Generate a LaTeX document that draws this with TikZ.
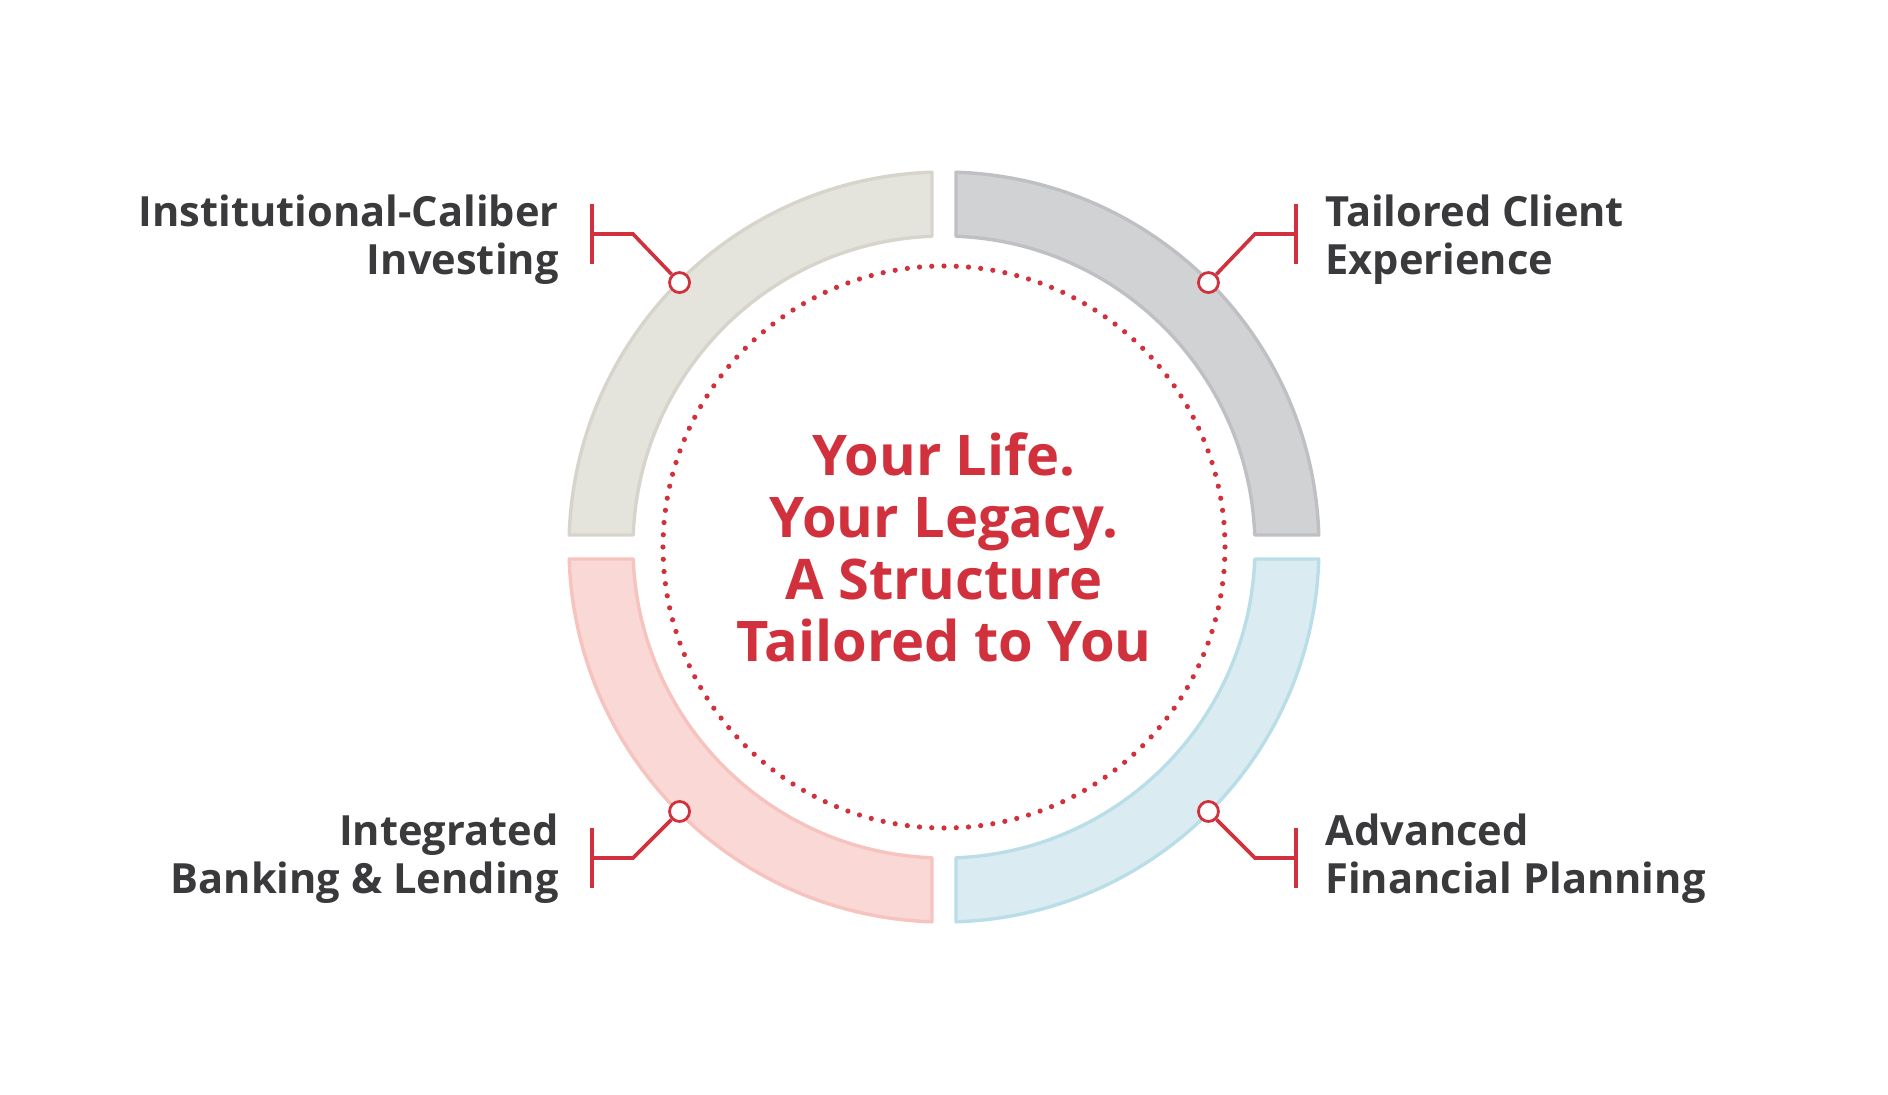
\documentclass[tikz,border=0pt]{standalone}
\usepackage{fontspec}
\setmainfont{Open Sans}
\definecolor{accent}{HTML}{D1313C}
\definecolor{labelgray}{HTML}{3A3A3C}
\definecolor{tlfill}{HTML}{E4E3DC}
\definecolor{tlline}{HTML}{D7D5CB}
\definecolor{trfill}{HTML}{D1D2D4}
\definecolor{trline}{HTML}{BFC0C4}
\definecolor{blfill}{HTML}{FAD8D5}
\definecolor{blline}{HTML}{F6C3BE}
\definecolor{brfill}{HTML}{DAECF2}
\definecolor{brline}{HTML}{BADEE8}
\begin{document}
\begin{tikzpicture}[x=0.5pt,y=0.5pt,
  seg/.style={line width=1.7pt, line join=round},
  pin/.style={circle, draw=accent, fill=white, line width=1.4pt, minimum size=10pt, inner sep=0pt},
  conn/.style={draw=accent, line width=1.8pt},
  lbl/.style={inner sep=0pt, text=labelgray, font=\fontsize{20.8}{24}\selectfont\bfseries},
  headline/.style={inner sep=0pt, text=accent, font=\fontsize{28}{31}\selectfont\bfseries}]
\useasboundingbox (-944,-547) rectangle (944,547);
\fill[white] (-944,-547) rectangle (944,547);

% ring segments
\draw[seg, fill=tlfill, draw=tlline] (178.166:375) arc[start angle=178.166, end angle=91.834, radius=375]
  -- (92.211:311) arc[start angle=92.211, end angle=177.789, radius=311] -- cycle;
\draw[seg, fill=trfill, draw=trline] (88.166:375) arc[start angle=88.166, end angle=1.834, radius=375]
  -- (2.211:311) arc[start angle=2.211, end angle=87.789, radius=311] -- cycle;
\draw[seg, fill=blfill, draw=blline] (268.166:375) arc[start angle=268.166, end angle=181.834, radius=375]
  -- (182.211:311) arc[start angle=182.211, end angle=267.789, radius=311] -- cycle;
\draw[seg, fill=brfill, draw=brline] (358.166:375) arc[start angle=358.166, end angle=271.834, radius=375]
  -- (272.211:311) arc[start angle=272.211, end angle=357.789, radius=311] -- cycle;

% dotted inner circle
\foreach \i in {0,...,143}{\fill[accent] (\i*2.5:281) circle[radius=2.6];}

% centre text
\node[headline, anchor=base] (title) at (0,72)
  {\begin{tabular}[t]{@{}c@{}}Your Life.\\Your Legacy.\\A Structure\\Tailored to You\end{tabular}};

% pins
\node[pin] (p1) at (135:374) {};
\node[pin] (p2) at (45:374) {};
\node[pin] (p3) at (225:374) {};
\node[pin] (p4) at (315:374) {};

% elbows and bars
\coordinate (e1) at (-311,313); \coordinate (b1) at (-352,313);
\coordinate (e2) at (311,313);  \coordinate (b2) at (352,313);
\coordinate (e3) at (-311,-311); \coordinate (b3) at (-352,-311);
\coordinate (e4) at (311,-311);  \coordinate (b4) at (352,-311);

\draw[conn] (p1) -- (e1) -- (b1);
\draw[conn] (p2) -- (e2) -- (b2);
\draw[conn] (p3) -- (e3) -- (b3);
\draw[conn] (p4) -- (e4) -- (b4);
\foreach \b in {b1,b2,b3,b4}{\draw[conn] ([yshift=15pt]\b) -- ([yshift=-15pt]\b);}

% labels
\node[lbl, anchor=base east] (l1) at (-385,321)
  {\begin{tabular}[t]{@{}r@{}}Institutional-Caliber\\Investing\end{tabular}};
\node[lbl, anchor=base west] (l2) at (381,321)
  {\begin{tabular}[t]{@{}l@{}}Tailored Client\\Experience\end{tabular}};
\node[lbl, anchor=base east] (l3) at (-385,-298)
  {\begin{tabular}[t]{@{}r@{}}Integrated\\Banking \& Lending\end{tabular}};
\node[lbl, anchor=base west] (l4) at (381,-298)
  {\begin{tabular}[t]{@{}l@{}}Advanced\\Financial Planning\end{tabular}};
\end{tikzpicture}
\end{document}
